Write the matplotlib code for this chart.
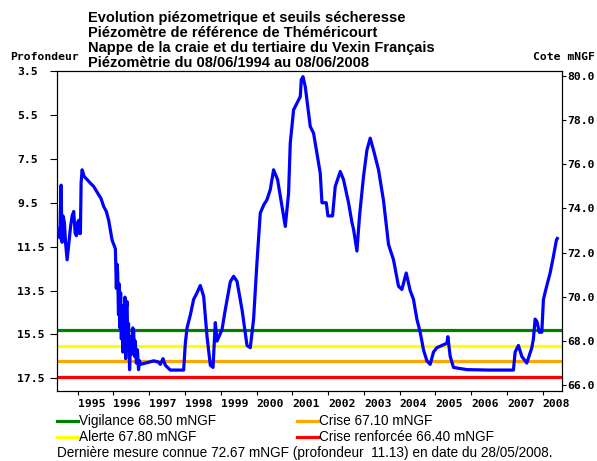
import numpy as np
from matplotlib import pyplot as plt

# piezometric record: decimal year / depth below reference (m)
dates = [1994.425, 1994.50, 1994.536, 1994.55, 1994.564, 1994.59, 1994.628, 1994.66,
         1994.704, 1994.76, 1994.80, 1994.844, 1994.888, 1994.93, 1994.964, 1995.00,
         1995.028, 1995.05, 1995.075, 1995.095, 1995.123, 1995.18, 1995.263, 1995.35,
         1995.447, 1995.587, 1995.65, 1995.726, 1995.80, 1995.866, 1995.961, 1996.053,
         1996.08, 1996.10, 1996.117, 1996.14, 1996.16, 1996.18, 1996.20, 1996.22, 1996.24,
         1996.26, 1996.28, 1996.30, 1996.32, 1996.34, 1996.36, 1996.38, 1996.40,
         1996.42, 1996.45, 1996.48, 1996.51, 1996.54, 1996.564, 1996.59, 1996.61,
         1996.64, 1996.67, 1996.70, 1996.73, 1996.751, 1996.90, 1997.123, 1997.25,
         1997.310, 1997.385, 1997.450, 1997.589, 1997.961, 1998.008, 1998.056, 1998.15,
         1998.240, 1998.335, 1998.427, 1998.520, 1998.615, 1998.707, 1998.782, 1998.846,
         1998.894, 1999.034, 1999.126, 1999.265, 1999.358, 1999.453, 1999.592, 1999.732,
         1999.824, 1999.916, 2000.011, 2000.103, 2000.20, 2000.291, 2000.383, 2000.475,
         2000.587, 2000.709, 2000.802, 2000.894, 2000.941, 2001.034, 2001.173, 2001.221,
         2001.249, 2001.296, 2001.360, 2001.500, 2001.592, 2001.779, 2001.827, 2001.947,
         2001.994, 2002.123, 2002.198, 2002.338, 2002.430, 2002.570, 2002.665, 2002.709,
         2002.804, 2002.877, 2002.989, 2003.084, 2003.176, 2003.268, 2003.408, 2003.547,
         2003.687, 2003.827, 2003.966, 2004.061, 2004.182, 2004.293, 2004.385, 2004.480,
         2004.573, 2004.665, 2004.760, 2004.852, 2004.944, 2005.039, 2005.179, 2005.318,
         2005.346, 2005.411, 2005.503, 2005.877, 2006.50, 2007.179, 2007.226, 2007.318,
         2007.413, 2007.553, 2007.693, 2007.737, 2007.785, 2007.832, 2007.905, 2007.972,
         2008.017, 2008.084, 2008.204, 2008.296, 2008.380, 2008.405]
depth = [10.7, 11.1, 8.7, 10.2, 11.3, 10.1, 10.4, 11.3,
         12.1, 11.2, 10.6, 10.1, 9.9, 10.9, 11.0, 10.4,
         10.3, 10.9, 10.9, 8.6, 8.0, 8.3, 8.45, 8.6,
         8.76, 9.14, 9.3, 9.67, 9.9, 10.3, 11.2, 11.6,
         13.4, 12.3, 12.7, 14.6, 13.2, 15.2, 13.6, 15.7, 14.2,
         16.3, 14.5, 16.0, 13.8, 16.6, 14.3, 14.0, 16.2,
         15.0, 17.1, 15.6, 16.4, 15.2, 15.35, 16.5, 15.8,
         16.8, 16.2, 17.1, 16.7, 16.86, 16.8, 16.7, 16.75,
         16.86, 16.6, 16.9, 17.12, 17.12, 15.9, 15.2, 14.6,
         13.9, 13.6, 13.27, 13.76, 15.6, 16.9, 17.0, 14.96,
         15.8, 15.27, 14.36, 13.1, 12.85, 13.08, 14.36, 16.0,
         16.1, 14.8, 12.2, 9.97, 9.6, 9.36, 8.9, 8.0,
         8.45, 9.67, 10.58, 9.06, 6.79, 5.27, 4.82, 4.67,
         3.9, 3.76, 4.21, 6.03, 6.33, 8.15, 9.5, 9.5,
         10.1, 10.1, 8.76, 8.08, 8.45, 9.5, 10.4, 10.7,
         11.7, 10.1, 8.3, 7.1, 6.56, 7.1, 8.0, 9.4,
         11.4, 12.1, 13.3, 13.45, 12.7, 13.5, 13.9, 14.8,
         15.4, 16.2, 16.7, 16.86, 16.3, 16.1, 16.0, 15.9,
         15.6, 16.5, 17.0, 17.1, 17.12, 17.12, 16.3, 16.0,
         16.5, 16.8, 16.1, 15.7, 14.8, 14.9, 15.4, 15.4,
         13.9, 13.45, 12.7, 11.95, 11.2, 11.13]

seuil_noms = ['Vigilance', 'Alerte', 'Crise', 'Crise renforcée']
seuil_cotes = [68.50, 67.80, 67.10, 66.40]
seuil_couleurs = ['#008000', '#ffff00', '#ffa500', '#ff0000']

annees = list(range(1995, 2009))
prof_ticks = [3.5, 5.5, 7.5, 9.5, 11.5, 13.5, 15.5, 17.5]
cote_ticks = [66.0, 68.0, 70.0, 72.0, 74.0, 76.0, 78.0, 80.0]

fig = plt.figure(figsize=(5.97, 4.61), dpi=100)
ax = fig.add_axes([0.096, 0.152, 0.845, 0.695])
ax2 = ax.twinx()

ax.plot(dates, depth, color='#0000ff', lw=2.3, zorder=3)
ax.set_xlim(1994.43, 2008.53)
ax.set_ylim(18.07, 3.48)

for c, col in zip(seuil_cotes, seuil_couleurs):
    ax2.axhline(c, color=col, lw=2.3, zorder=2)
ax2.set_ylim(65.75, 80.23)
ax.set_zorder(ax2.get_zorder() + 1)
ax.patch.set_visible(False)

tickfont = dict(family='DejaVu Sans Mono', weight='bold', size=8.2)
ax.set_yticks(prof_ticks)
ax.set_yticklabels([f'{v:.1f}' for v in prof_ticks], **tickfont)
for lab in ax.get_yticklabels():
    lab.set_horizontalalignment('left')
ax.tick_params(axis='y', length=5, width=0.8, pad=24)

ax2.set_yticks(cote_ticks)
ax2.set_yticklabels([f'{v:.1f}' for v in cote_ticks], **tickfont)
ax2.tick_params(axis='y', length=3, width=0.8, pad=1)

ax.set_xticks(annees)
ax.set_xticklabels([str(a) for a in annees], **tickfont)
for lab in ax.get_xticklabels():
    lab.set_horizontalalignment('left')
ax.tick_params(axis='x', length=3, width=0.8, pad=3)

for a in (ax, ax2):
    for s in a.spines.values():
        s.set_linewidth(0.8)

titres = ['Evolution piézometrique et seuils sécheresse',
          'Piézomètre de référence de Théméricourt',
          'Nappe de la craie et du tertiaire du Vexin Français',
          'Piézomètrie du 08/06/1994 au 08/06/2008']
for i, t in enumerate(titres):
    fig.text(88 / 597, 1 - (18 + 15 * i) / 461, t, family='Liberation Sans',
             weight='bold', size=10.5, va='center', ha='left')

fig.text(10 / 597, 1 - 57 / 461, 'Profondeur', **tickfont, va='center')
fig.text(595 / 597, 1 - 57 / 461, 'Cote mNGF', **tickfont, va='center', ha='right')

# legende des seuils
pos = [(57, 421), (57, 437), (297, 421), (297, 437)]
for (px, py), nom, c, col in zip(pos, seuil_noms, seuil_cotes, seuil_couleurs):
    yy = 1 - py / 461
    fig.add_artist(plt.Line2D([px / 597, (px + 21) / 597], [yy, yy], color=col, lw=2.3))
    fig.text((px + 22) / 597, yy, f'{nom} {c:.2f} mNGF', family='Liberation Sans',
             size=9.8, va='center', ha='left')

fig.text(57 / 597, 1 - 453 / 461,
         'Dernière mesure connue 72.67 mNGF (profondeur  11.13) en date du 28/05/2008.',
         family='Liberation Sans', size=9.8, va='center', ha='left')

fig.savefig('out.png', dpi=100)
